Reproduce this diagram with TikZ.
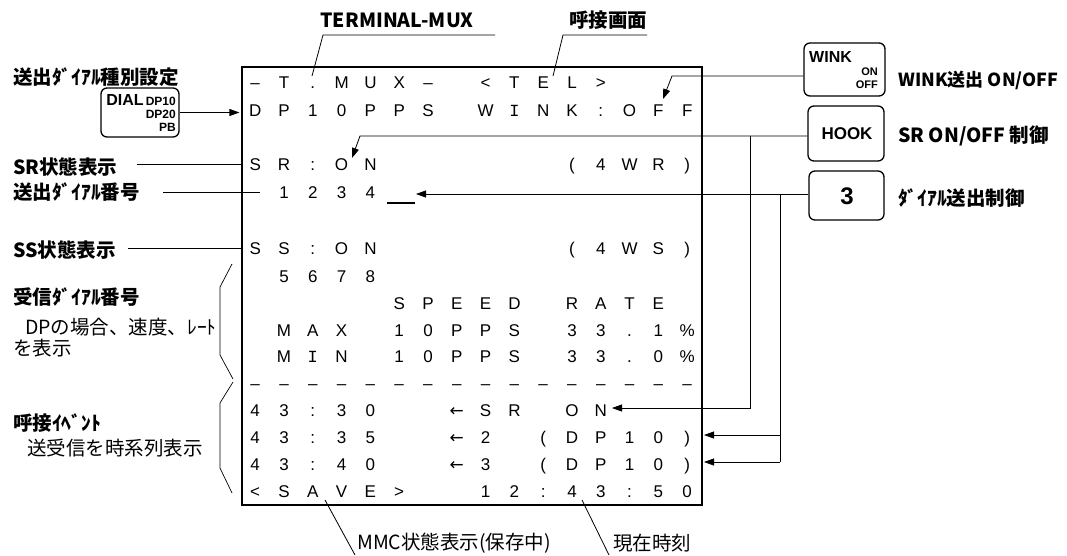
\documentclass[tikz,border=0pt]{standalone}
\usepackage{fontspec}
\usetikzlibrary{arrows.meta,calc}
\newfontfamily\jp{Noto Sans CJK JP}
\newfontfamily\scr{Liberation Sans}
\newfontfamily\scrmono{Liberation Mono}
\newfontfamily\arrfont{DejaVu Sans}
\newfontfamily\keyf{Liberation Sans}
\newcommand\sI{{\scrmono I}}
\newcommand\arrL{{\arrfont ←}}
\newcommand\gr[1]{\foreach \c in {#1}{\makebox[28.8pt]{\c}}}
\tikzset{
 lbl/.style={font=\jp\bfseries\fontsize{19.5}{19.5}\selectfont, inner sep=0pt, anchor=west},
 note/.style={font=\jp\fontsize{19.5}{19.5}\selectfont, inner sep=0pt, anchor=west},
 scrrow/.style={font=\scr\fontsize{17}{17}\selectfont, inner sep=0pt, anchor=west, text height=12pt, text depth=0pt},
 keybox/.style={draw, line width=1.3pt, rounded corners=6pt, inner sep=0pt},
 keytxt/.style={font=\keyf\bfseries, inner sep=0pt},
 thin/.style={line width=0.8pt},
 arr/.style={thin, -{Triangle[length=10pt,width=7pt]}},
 brace/.style={line width=0.7pt},
}
\begin{document}
\begin{tikzpicture}[x=1pt,y=-1pt]
\path[fill=white, use as bounding box] (0,0) rectangle (1067,555);

% screen
\node[draw, line width=2.6pt, minimum width=460pt, minimum height=438pt, inner sep=0pt] (screen) at (472,286) {};
\node[scrrow] (r1) at (240.6,82) {\gr{–,T,.,M,U,X,–,{},<,T,E,L,>}};
\node[scrrow] (r2) at (240.6,110) {\gr{D,P,1,0,P,P,S,{},W,\sI,N,K,:,O,F,F}};
\node[scrrow] (r3) at (240.6,164) {\gr{S,R,:,O,N,{},{},{},{},{},{},{(},4,W,R,{)}}};
\node[scrrow] (r4) at (240.6,192) {\gr{{},1,2,3,4}};
\node[scrrow] (r5) at (240.6,248) {\gr{S,S,:,O,N,{},{},{},{},{},{},{(},4,W,S,{)}}};
\node[scrrow] (r6) at (240.6,276) {\gr{{},5,6,7,8}};
\node[scrrow] (r7) at (240.6,303) {\gr{{},{},{},{},{},S,P,E,E,D,{},R,A,T,E}};
\node[scrrow] (r8) at (240.6,330) {\gr{{},M,A,X,{},1,0,P,P,S,{},3,3,.,1,\%}};
\node[scrrow] (r9) at (240.6,356) {\gr{{},M,\sI,N,{},1,0,P,P,S,{},3,3,.,0,\%}};
\node[scrrow] (r10) at (240.6,383) {\gr{–,–,–,–,–,–,–,–,–,–,–,–,–,–,–,–}};
\node[scrrow] (r11) at (240.6,410) {\gr{4,3,:,3,0,{},{},\arrL,S,R,{},O,N}};
\node[scrrow] (r12) at (240.6,437) {\gr{4,3,:,3,5,{},{},\arrL,2,{},{(},D,P,1,0,{)}}};
\node[scrrow] (r13) at (240.6,464) {\gr{4,3,:,4,0,{},{},\arrL,3,{},{(},D,P,1,0,{)}}};
\node[scrrow] (r14) at (240.6,491) {\gr{<,S,A,V,E,>,{},{},1,2,:,4,3,:,5,0}};
% cursor
\draw[line width=2.8pt] (387,203) -- (415,203);

% top labels
\node[lbl, anchor=center] (tmux) at (397,20) {TERMINAL-MUX};
\node[lbl, anchor=center] (yobi) at (608,20) {呼接画面};
\coordinate (tmR) at (495,35); \coordinate (tmL) at (323,35); \coordinate (tmT) at (312,76);
\draw[thin] (tmR) -- (tmL) -- (tmT);
\coordinate (ybR) at (647,35); \coordinate (ybL) at (563,35); \coordinate (ybT) at (553,76);
\draw[thin] (ybR) -- (ybL) -- (ybT);

% left labels
\node[lbl] (dialset) at (13,77) {送出ﾀﾞｲｱﾙ種別設定};
\node[keybox, minimum width=78pt, minimum height=49pt] (dial) at (140,112.5) {};
\node[keytxt, font=\keyf\bfseries\fontsize{16}{16}\selectfont] (dialT) at (125,100) {DIAL};
\node[keytxt, anchor=east, font=\keyf\bfseries\fontsize{12}{12}\selectfont] (dp10) at (176,101) {DP10};
\node[keytxt, anchor=east, font=\keyf\bfseries\fontsize{12}{12}\selectfont] (dp20) at (176,114) {DP20};
\node[keytxt, anchor=east, font=\keyf\bfseries\fontsize{12}{12}\selectfont] (pb) at (176,127) {PB};
\draw[arr, shorten >=1.3pt] (dial.east) -- (dial.east -| screen.west);

\node[lbl] (srlbl) at (13,167) {SR状態表示};
\coordinate (srA) at (137,164);
\draw[thin] (srA) -- (srA -| screen.west);
\node[lbl] (dnlbl) at (13,192) {送出ﾀﾞｲｱﾙ番号};
\coordinate (dnA) at (163,192); \coordinate (dnB) at (260,192);
\draw[thin] (dnA) -- (dnB);
\node[lbl] (sslbl) at (13,250) {SS状態表示};
\coordinate (ssA) at (128,248);
\draw[thin] (ssA) -- (ssA -| screen.west);

\node[lbl] (rxlbl) at (13,297) {受信ﾀﾞｲｱﾙ番号};
\node[note] (rxn1) at (25,327) {DPの場合、速度、ﾚｰﾄ};
\node[note] (rxn2) at (13,348) {を表示};
\draw[brace] (232,264) -- (220,287) -- (220,355) -- (233,379);
\draw[brace] (233,382) -- (220,403) -- (220,468) -- (232,493);

\node[lbl] (evlbl) at (13,423) {呼接ｲﾍﾞﾝﾄ};
\node[note] (evn) at (27,448) {送受信を時系列表示};

% bottom labels
\node[note] (mmc) at (357,543) {MMC状態表示(保存中)};
\coordinate (mmA) at (325,500); \coordinate (mmB) at (355,555);
\draw[thin] (mmA) -- (mmB);
\node[note] (now) at (613,543) {現在時刻};
\coordinate (nwA) at (582,500); \coordinate (nwB) at (609,555);
\draw[thin] (nwA) -- (nwB);

% right keys
\node[keybox, minimum width=81pt, minimum height=53pt] (wink) at (844.5,69.5) {};
\node[keytxt, anchor=west, font=\keyf\bfseries\fontsize{16}{16}\selectfont] (winkT) at (809,57) {WINK};
\node[keytxt, anchor=east, font=\keyf\bfseries\fontsize{11}{11}\selectfont] (winkOn) at (878,72) {ON};
\node[keytxt, anchor=east, font=\keyf\bfseries\fontsize{11}{11}\selectfont] (winkOff) at (878,85) {OFF};
\node[lbl, font=\jp\bfseries\fontsize{18}{18}\selectfont] (winklbl) at (898,80) {WINK送出 ON/OFF};

\node[keybox, minimum width=76pt, minimum height=55pt] (hook) at (846,133.5) {};
\node[keytxt, font=\keyf\bfseries\fontsize{17}{17}\selectfont] (hookT) at (847,134) {HOOK};
\node[lbl] (hooklbl) at (898,136) {SR ON/OFF 制御};

\node[keybox, minimum width=75pt, minimum height=49pt] (key3) at (846.5,195.5) {};
\node[keytxt, font=\keyf\bfseries\fontsize{24}{24}\selectfont] (key3T) at (847,196) {3};
\node[lbl] (k3lbl) at (898,198) {ﾀﾞｲｱﾙ送出制御};

% connectors from keys
\coordinate (wkB) at (672,76); \coordinate (wkT) at (663,99);
\draw[arr] (wink.west |- wkB) -- (wkB) -- (wkT);

\coordinate (hkB) at (360,136); \coordinate (hkT) at (352,158);
\coordinate (hkV) at (750,136); \coordinate (hkV2) at (750,408); \coordinate (srN) at (612,408);
\draw[arr] (hook.west |- hkB) -- (hkB) -- (hkT);
\draw[arr] (hkV) -- (hkV2) -- (srN);

\coordinate (cur) at (416,194);
\coordinate (k3V) at (780,194); \coordinate (k3a) at (780,435); \coordinate (k3b) at (780,462);
\coordinate (e2) at (704,435); \coordinate (e3) at (704,462);
\draw[arr] (key3.west |- cur) -- (cur);
\draw[thin] (k3V) -- (k3b);
\draw[arr] (k3a) -- (e2);
\draw[arr] (k3b) -- (e3);
\end{tikzpicture}
\end{document}
